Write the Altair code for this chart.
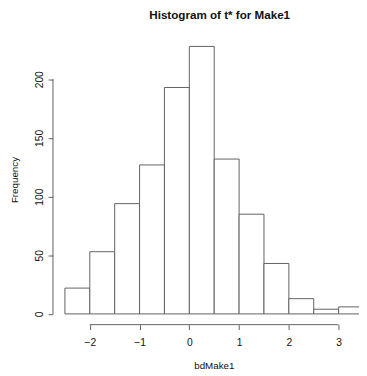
import altair as alt
import pandas as pd

# ---- data ----
bin_start = [-2.5, -2.0, -1.5, -1.0, -0.5, 0.0, 0.5, 1.0, 1.5, 2.0, 2.5, 3.0]
bin_end = [-2.0, -1.5, -1.0, -0.5, 0.0, 0.5, 1.0, 1.5, 2.0, 2.5, 3.0, 3.5]
counts = [22, 53, 94, 127, 193, 228, 132, 85, 43, 13, 4, 6]
x_ticks = [-2, -1, 0, 1, 2, 3]
y_ticks = [0, 50, 100, 150, 200]

title_text = "Histogram of t* for Make1"
x_title = "bdMake1"
y_title = "Frequency"

# ---- layout ----
FONT = "Liberation Sans"
LINE = "#606060"
W, H = 313, 296.7
x_dom = [-2.74, -2.74 + W / 50.9]
y_dom = [-9.16, 238.1]

bars = pd.DataFrame({"start": bin_start, "end": bin_end, "count": counts})
xaxis_df = pd.DataFrame({"start": [min(x_ticks)], "end": [max(x_ticks)]})
yaxis_df = pd.DataFrame({"count": [min(y_ticks)], "top": [max(y_ticks)]})

xscale = alt.Scale(domain=x_dom, nice=False, zero=False)
yscale = alt.Scale(domain=y_dom, nice=False, zero=False)

x_axis = alt.Axis(
    values=x_ticks, domain=False, grid=False, tickSize=5, tickColor=LINE,
    labelFont=FONT, labelFontSize=10.5, labelColor="#111", labelPadding=8.5,
    labelFlush=False, labelOverlap=False,
    title=x_title, titleFont=FONT, titleFontSize=10, titleFontWeight="normal",
    titleColor="#111", titleX=164.5, titleY=45.3, titleAlign="center",
    titleBaseline="alphabetic", titleAnchor="start",
)
y_axis = alt.Axis(
    values=y_ticks, domain=False, grid=False, tickSize=5, tickColor=LINE,
    labelFont=FONT, labelFontSize=10.5, labelColor="#111", labelPadding=4,
    labelAngle=270, labelAlign="center", labelBaseline="bottom",
    labelFlush=False, labelOverlap=False,
    title=y_title, titleFont=FONT, titleFontSize=10, titleFontWeight="normal",
    titleColor="#111", titleAngle=270, titleX=-36.7, titleY=148.3,
    titleAlign="center", titleBaseline="alphabetic", titleAnchor="start",
)

hist = alt.Chart(bars).mark_rect(
    fill="white", stroke=LINE, strokeWidth=1, clip=True
).encode(
    x=alt.X("start:Q", scale=xscale, axis=x_axis),
    x2="end:Q",
    y=alt.Y("count:Q", scale=yscale, axis=y_axis),
    y2=alt.datum(0),
)

xline = alt.Chart(xaxis_df).mark_rule(color=LINE, strokeWidth=1).encode(
    x=alt.X("start:Q", scale=xscale, axis=x_axis),
    x2="end:Q",
    y=alt.Y(datum=y_dom[0], scale=yscale, axis=y_axis),
)
yline = alt.Chart(yaxis_df).mark_rule(color=LINE, strokeWidth=1).encode(
    y=alt.Y("count:Q", scale=yscale, axis=y_axis),
    y2="top:Q",
    x=alt.X(datum=x_dom[0], scale=xscale, axis=x_axis),
)

chart = alt.layer(hist, xline, yline).properties(
    width=W,
    height=H,
    background="white",
    autosize=alt.AutoSizeParams(type="none"),
    padding={"left": 46, "top": 23, "right": 0, "bottom": 48},
    title=alt.TitleParams(
        text=title_text, font=FONT, fontSize=11.9, fontWeight="bold",
        color="#111", anchor="middle", dx=14, offset=4,
        baseline="alphabetic", frame="group",
    ),
).configure_view(
    stroke="transparent", strokeWidth=0
).configure_axis(domain=False)

chart.save("out.html", embed_options={"renderer": "svg", "actions": False})
